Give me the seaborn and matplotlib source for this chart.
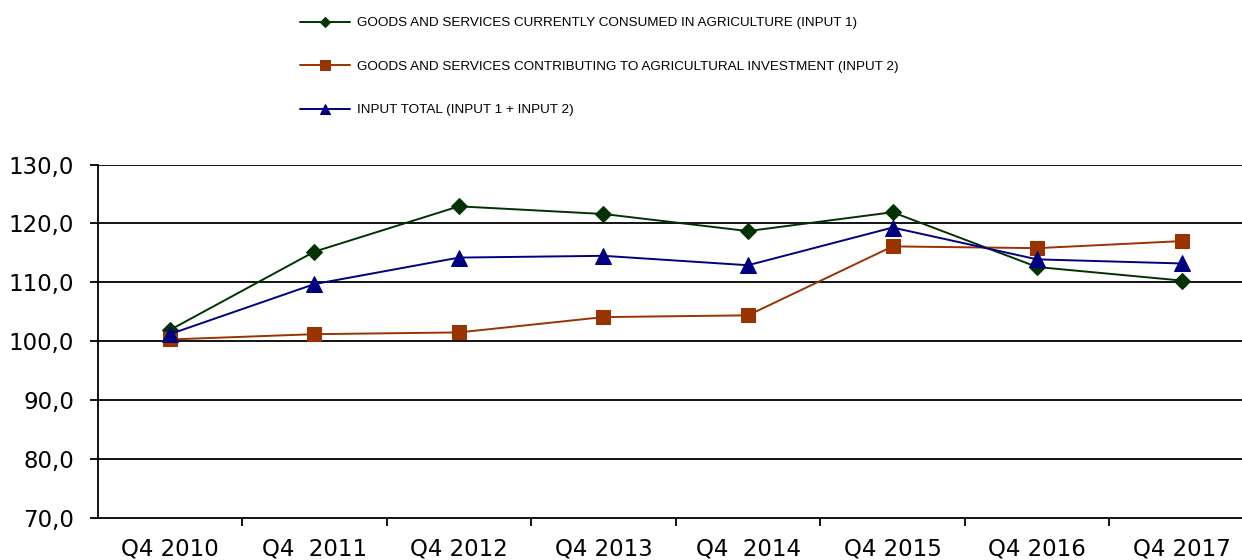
import matplotlib
matplotlib.use("Agg")
import matplotlib.pyplot as plt
import seaborn as sns
from pandas import DataFrame

# categories and series
quarters = ["Q4 2010", "Q4  2011", "Q4 2012", "Q4 2013", "Q4  2014", "Q4 2015", "Q4 2016", "Q4 2017"]
input1 = [101.9, 115.2, 122.9, 121.6, 118.7, 121.9, 112.6, 110.3]
input2 = [100.3, 101.2, 101.5, 104.1, 104.4, 116.1, 115.8, 117.0]
total = [101.2, 109.7, 114.2, 114.5, 112.9, 119.3, 113.9, 113.2]

name1 = "GOODS AND SERVICES CURRENTLY CONSUMED IN AGRICULTURE (INPUT 1)"
name2 = "GOODS AND SERVICES CONTRIBUTING TO AGRICULTURAL INVESTMENT (INPUT 2)"
name3 = "INPUT TOTAL (INPUT 1 + INPUT 2)"

yticks = [70, 80, 90, 100, 110, 120, 130]
ylabels = ["70,0", "80,0", "90,0", "100,0", "110,0", "120,0", "130,0"]

sns.set_style("white")
plt.rcParams['font.family'] = ['DejaVu Sans']
plt.rcParams['text.color'] = 'black'
plt.rcParams['xtick.color'] = 'black'
plt.rcParams['ytick.color'] = 'black'

fig = plt.figure(figsize=(12.42, 5.6), dpi=100)
ax = fig.add_axes([97.5 / 1242, 1 - 518 / 560, (1254 - 97.5) / 1242, (518 - 164.5) / 560])

series = [
    (name1, input1, "#003300", "D", 8),
    (name2, input2, "#993300", "s", 10),
    (name3, total, "#000080", "^", 11),
]
for name, vals, col, mk, ms in series:
    dfs = DataFrame({"quarter": quarters, "value": vals})
    sns.lineplot(x="quarter", y="value", data=dfs, ax=ax, color=col, marker=mk,
                 markersize=ms, markeredgecolor=col, linewidth=1.4, label=name,
                 sort=False, legend=False, zorder=3)

ax.set_xlim(-0.5, 7.5)
ax.set_ylim(70, 130)
ax.set_yticks(yticks)
ax.set_yticklabels(ylabels)
ax.set_xlabel("")
ax.set_ylabel("")

# horizontal grid
ax.grid(False)
for y in yticks[1:]:
    ax.axhline(y, color="black", linewidth=1.3, zorder=1)

for side in ["top", "right"]:
    ax.spines[side].set_visible(False)
for side in ["left", "bottom"]:
    ax.spines[side].set_color("black")
    ax.spines[side].set_linewidth(1.3)

ax.set_xticks([i + 0.5 for i in range(len(quarters))], minor=True)
ax.tick_params(axis="x", which="major", length=0, pad=14, labelsize=16.5, labelcolor="black")
ax.tick_params(axis="x", which="minor", length=6, width=1.3, color="black", direction="out", bottom=True)
ax.tick_params(axis="y", length=6, width=1.3, color="black", direction="out", left=True, pad=11,
               labelsize=16.5, labelcolor="black")

handles, labels = ax.get_legend_handles_labels()
leg = fig.legend(handles, labels, loc="upper left", bbox_to_anchor=(300 / 1242, 1 - 17 / 560),
                 frameon=False, prop={"family": "Liberation Sans", "size": 9.7},
                 handlelength=3.7, handletextpad=0.5, labelspacing=2.3, borderpad=0,
                 borderaxespad=0, markerscale=0.7)
for t in leg.get_texts():
    t.set_color("black")

fig.savefig("out.png", dpi=100)
